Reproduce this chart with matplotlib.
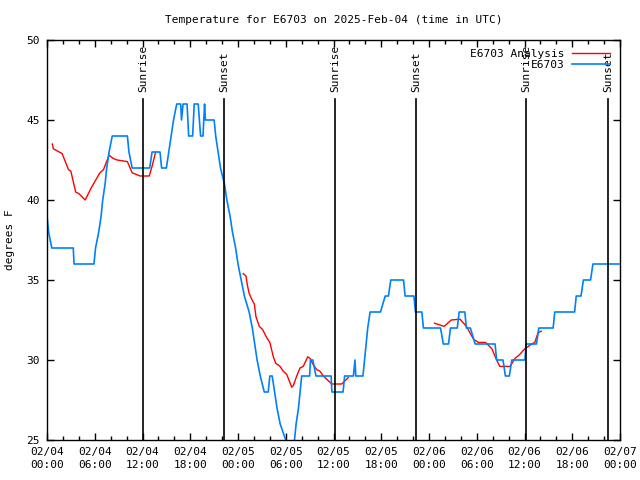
import matplotlib
matplotlib.use("Agg")
import matplotlib.pyplot as plt
import numpy as np
from matplotlib.ticker import MultipleLocator

# hours since 02/04 00:00 UTC
blue_hours = [0.0, 0.2, 0.6, 3.3, 3.4, 5.9, 6.1, 6.5, 6.8, 7.0, 7.3, 7.5, 7.8, 8.2,
              10.1, 10.3, 10.7, 12.9, 13.2, 14.2, 14.4, 15.0, 15.3, 15.6, 15.9, 16.3,
              16.8, 16.9, 17.1, 17.6, 17.8, 18.3, 18.5, 19.0, 19.3, 19.6, 19.8, 19.9,
              21.0, 21.2, 21.5, 21.8, 22.3, 22.6, 23.0, 23.3, 23.7, 24.0, 24.4, 24.8,
              25.4, 25.8, 26.1, 26.4, 26.8, 27.3, 27.8, 28.0, 28.3, 28.6, 28.9, 29.3,
              30.0, 30.2, 30.9, 31.1, 31.3, 31.6, 31.8, 32.0, 33.0, 33.1, 33.4, 33.8,
              35.7, 35.8, 37.2, 37.4, 38.5, 38.7, 38.8, 39.7, 39.9, 40.1, 40.3, 40.6,
              41.9, 42.5, 42.9, 43.2, 44.8, 45.0, 46.1, 46.3, 47.1, 47.3, 49.45, 49.8,
              50.45, 50.7, 51.55, 51.8, 52.5, 52.7, 53.2, 53.8, 56.3, 56.5, 57.3, 57.6,
              58.1, 58.4, 60.05, 60.2, 61.5, 61.8, 63.6, 63.8, 66.3, 66.5, 67.1, 67.4,
              68.3, 68.6, 72.0]
blue_temps = [39, 38, 37, 37, 36, 36, 37, 38, 39, 40, 41, 42, 43, 44,
              44, 43, 42, 42, 43, 43, 42, 42, 43, 44, 45, 46,
              46, 45, 46, 46, 44, 44, 46, 46, 44, 44, 46, 45,
              45, 44, 43, 42, 41, 40, 39, 38, 37, 36, 35, 34,
              33, 32, 31, 30, 29, 28, 28, 29, 29, 28, 27, 26,
              25, 24, 24, 25, 26, 27, 28, 29, 29, 30, 30, 29,
              29, 28, 28, 29, 29, 30, 29, 29, 30, 31, 32, 33,
              33, 34, 34, 35, 35, 34, 34, 33, 33, 32, 32, 31,
              31, 32, 32, 33, 33, 32, 32, 31, 31, 30, 30, 29,
              29, 30, 30, 31, 31, 32, 32, 33, 33, 34, 34, 35,
              35, 36, 36]

# analysis series, NaN marks gaps
red_hours = [0.67, 0.8, 1.9, 2.7, 3.0, 3.6, 4.0, 4.8, 5.6, 6.65, 7.1, 7.8, 8.3, 8.8,
             10.1, 10.7, 11.7, 12.85, 13.2, 13.65, 14.0,
             24.66, 25.0, 25.17, 25.38, 25.72, 26.05, 26.26, 26.68, 27.1, 27.6, 28.0,
             28.44, 28.74, 29.28, 29.69, 30.12, 30.75, 30.95, 31.38, 31.79, 32.2, 32.76,
             33.05, 33.46, 33.89, 34.3, 34.72, 35.15, 35.78, 37.03, 37.45, 37.86, 38.0,
             48.7, 49.9, 50.8, 51.9, 52.7, 53.6, 54.2, 55.1, 55.9, 56.5, 56.9, 58.2,
             58.8, 59.3, 60.05, 60.9, 61.3, 61.7, 62.1]
red_temps = [43.5, 43.2, 42.9, 41.9, 41.8, 40.5, 40.4, 40.0, 40.8, 41.7, 41.9, 42.8, 42.6, 42.5,
             42.4, 41.7, 41.5, 41.5, 42.1, 43.0, np.nan,
             35.4, 35.25, 34.7, 34.2, 33.8, 33.5, 32.7, 32.1, 31.9, 31.4, 31.1,
             30.2, 29.8, 29.6, 29.3, 29.1, 28.3, 28.4, 29.0, 29.5, 29.6, 30.2,
             30.1, 29.7, 29.4, 29.3, 29.0, 28.8, 28.5, 28.5, 28.7, 28.9, np.nan,
             32.3, 32.1, 32.5, 32.55, 32.1, 31.3, 31.1, 31.1, 30.7, 30.0, 29.6, 29.6,
             30.1, 30.3, 30.7, 31.0, 31.1, 31.7, 31.8]

sun_hours = [12.1, 22.25, 36.2, 46.4, 60.2, 70.55]
sun_labels = ["Sunrise", "Sunset", "Sunrise", "Sunset", "Sunrise", "Sunset"]

tick_labels = ["02/04\n00:00", "02/04\n06:00", "02/04\n12:00", "02/04\n18:00",
               "02/05\n00:00", "02/05\n06:00", "02/05\n12:00", "02/05\n18:00",
               "02/06\n00:00", "02/06\n06:00", "02/06\n12:00", "02/06\n18:00",
               "02/07\n00:00"]

plt.rcParams["font.family"] = "DejaVu Sans Mono"
plt.rcParams["font.size"] = 8

fig = plt.figure(figsize=(6.4, 4.8), dpi=100)
ax = fig.add_axes([47 / 640, 40 / 480, 573 / 640, 400 / 480])

ax.plot(red_hours, red_temps, color="#ff0000", lw=1, label="E6703 Analysis")
ax.plot(blue_hours, blue_temps, color="#0080ff", lw=1.2, label="E6703")

for h, lab in zip(sun_hours, sun_labels):
    ax.plot([h, h], [25, 46.3], color="black", lw=1.2)
    ax.text(h, 46.75, lab, rotation=90, ha="center", va="bottom", fontsize=8)

ax.set_xlim(0, 72)
ax.set_ylim(25, 50)
ax.set_xticks(np.arange(0, 73, 6))
ax.set_xticklabels(tick_labels, linespacing=1.4)
ax.xaxis.set_minor_locator(MultipleLocator(2))
ax.yaxis.set_major_locator(MultipleLocator(5))
ax.tick_params(which="both", direction="in", top=True, right=True, width=1, pad=5)
ax.tick_params(which="major", length=5)
ax.tick_params(which="minor", length=3)
for s in ax.spines.values():
    s.set_linewidth(1)

ax.set_ylabel("degrees F", labelpad=8)
ax.set_title("Temperature for E6703 on 2025-Feb-04 (time in UTC)", fontsize=8, pad=12)

leg = ax.legend(loc="upper right", frameon=False, markerfirst=False, handlelength=3.5,
                borderaxespad=0.2, labelspacing=0.1, handletextpad=0.6,
                bbox_to_anchor=(0.995, 0.995))
for t in leg.get_texts():
    t.set_ha("right")

fig.savefig("out.png", dpi=100)
